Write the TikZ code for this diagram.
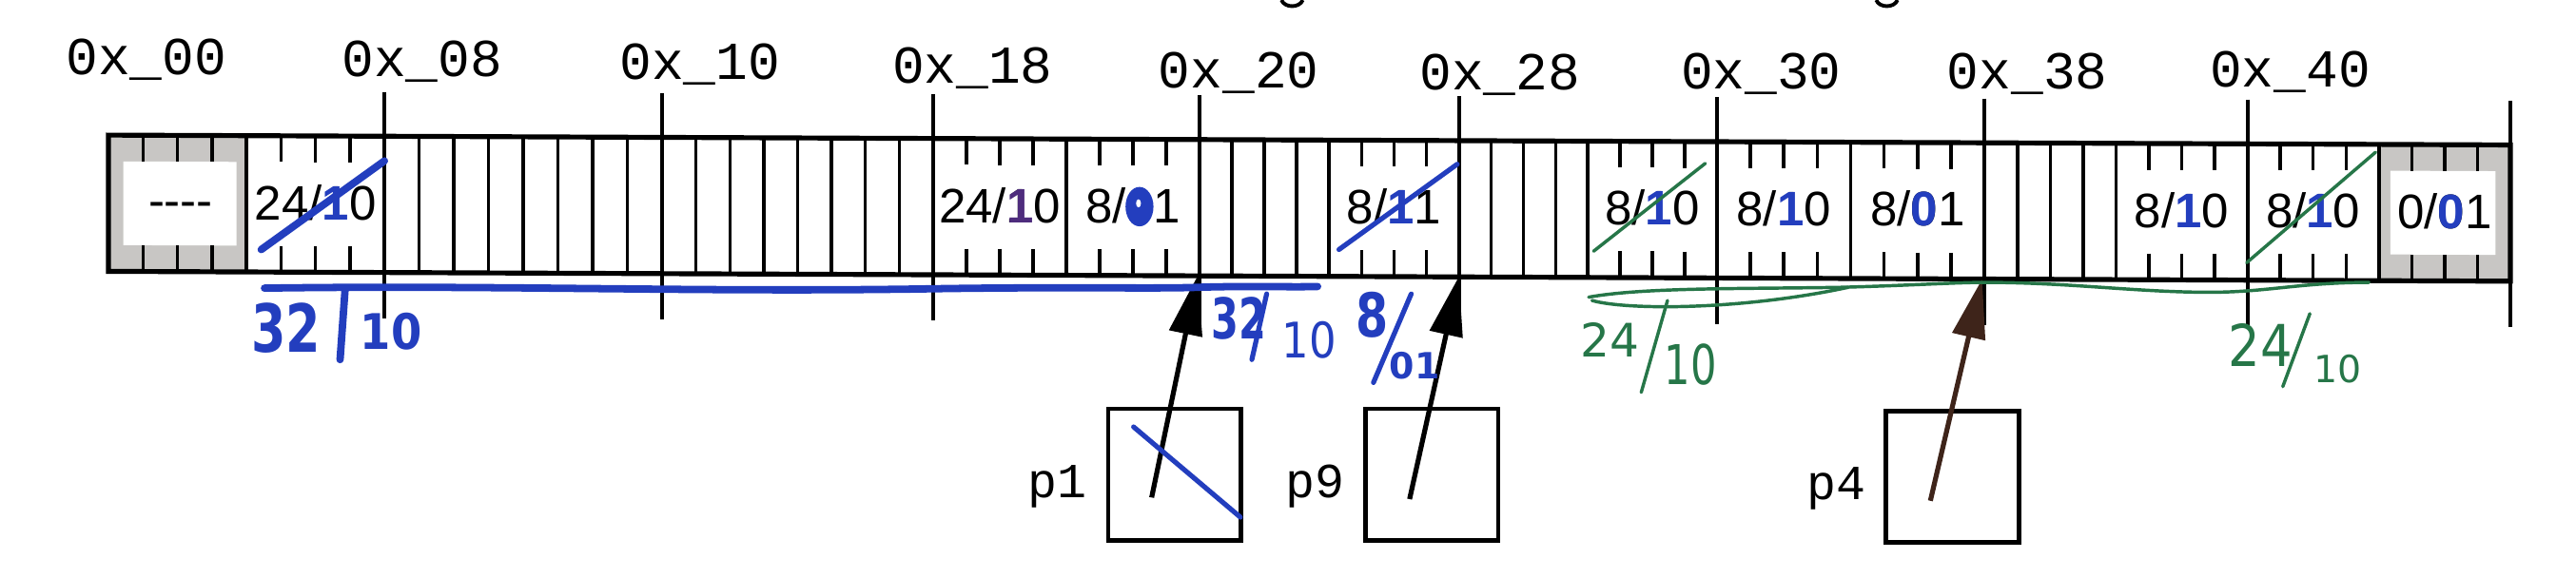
\documentclass[tikz,border=0pt]{standalone}
\usepackage{fontspec}
\usepackage{graphicx}
\usetikzlibrary{arrows.meta}
\setmainfont{Liberation Sans}
\newfontfamily\monofont{Liberation Mono}
\newfontfamily\handfont{DejaVu Sans}
\definecolor{inkblue}{RGB}{35,62,190}
\definecolor{inkpurple}{RGB}{78,44,125}
\definecolor{inkgreen}{RGB}{38,118,72}
\definecolor{inkbrown}{RGB}{62,36,26}
\definecolor{cellgray}{RGB}{200,198,196}
\newcommand{\ovone}[1]{\ooalign{1\cr\textcolor{#1}{\bfseries 1}}}
\newcommand{\ovring}{\ooalign{0\cr\textcolor{inkblue}{\bfseries 0}}}
\tikzset{
  cellline/.style={line width=0.4mm},
  wordline/.style={line width=0.45mm},
  outline/.style={line width=0.6mm},
  hdr/.style={font=\fontsize{16.8}{18}\selectfont, anchor=base, inner sep=0pt},
  addr/.style={font=\monofont\fontsize{18.5}{20}\selectfont, anchor=base, inner sep=0pt},
  plabel/.style={font=\monofont\fontsize{17}{18}\selectfont, anchor=base east, inner sep=0pt},
  pbox/.style={draw, line width=0.55mm, minimum width=16.2mm, minimum height=16mm, inner sep=0pt},
  ptr/.style={line width=0.6mm, -{Triangle[length=7.2mm,width=4mm]}},
  hw/.style={font=\handfont, inner sep=0pt, anchor=center},
  bluepen/.style={inkblue, line width=0.9mm, line cap=round},
  bluethin/.style={inkblue, line width=0.6mm, line cap=round},
  greenpen/.style={inkgreen, line width=0.4mm, line cap=round},
}
\begin{document}
\begin{tikzpicture}[x=0.2mm, y=-0.2mm]
\fill[white] (0,0) rectangle (1568,352);
\path[use as bounding box] (0,0) rectangle (1568,352);
\clip (0,0) rectangle (1568,352);

% byte boundary coordinates
\foreach \w/\xa/\xb in {0/66/234,1/234/403,2/403/568,3/568/730,4/730/888,5/888/1045,6/1045/1208,7/1208/1368,8/1368/1528}{
  \foreach \k in {0,...,7}{
    \pgfmathtruncatemacro{\idx}{\w*8+\k}
    \pgfmathsetmacro{\xx}{\xa+\k*(\xb-\xa)/8}
    \coordinate (b\idx) at (\xx,0);
  }
}
\coordinate (b72) at (1528,0);

% fragments of cut-off title descenders
\draw[line width=0.45mm] (780,0) .. controls (782,5) and (791,5) .. (793,0);
\draw[line width=0.45mm] (1142,0) .. controls (1144,5) and (1153,5) .. (1155,0);

% ---- the heap strip (slightly tilted as in the photo) ----
\begin{scope}[cm={1,-0.0041,0,1,(0,0)}]
  \coordinate (T) at (0,82);
  \coordinate (TT) at (0,98);
  \coordinate (BB) at (0,149);
  \coordinate (B) at (0,165);
  \coordinate (WT) at (0,55);
  \coordinate (WB) at (0,193);
  \fill[cellgray] (b0|-T) rectangle (b4|-B);
  \fill[cellgray] (b68|-T) rectangle (b72|-B);
  \fill[white] (75,98) rectangle (144,149);
  \fill[white] (1455,98) rectangle (1519,149);
  \foreach \i in {4,8,9,10,11,12,13,14,15,16,17,18,19,20,21,22,23,24,28,32,33,34,35,36,40,41,42,43,44,48,52,56,57,58,59,60,64,68}
    \draw[cellline] (b\i|-T) -- (b\i|-B);
  \foreach \i in {1,2,3,5,6,7,25,26,27,29,30,31,37,38,39,45,46,47,49,50,51,53,54,55,61,62,63,65,66,67,69,70,71}{
    \draw[cellline] (b\i|-T) -- (b\i|-TT);
    \draw[cellline] (b\i|-BB) -- (b\i|-B);
  }
  \foreach \i in {8,16,24,32,40,48,56,64,72}
    \draw[wordline] (b\i|-WT) -- (b\i|-WB);
  \draw[outline] (b0|-T) rectangle (b72|-B);

  % address labels
  \node[addr] (a00) at (89,45) {0x\_00};
  \node[addr] (a08) at (257,45.5) {0x\_08};
  \node[addr] (a10) at (426,46.5) {0x\_10};
  \node[addr] (a18) at (592,48.5) {0x\_18};
  \node[addr] (a20) at (754,50.5) {0x\_20};
  \node[addr] (a28) at (913,51) {0x\_28};
  \node[addr] (a30) at (1072,50) {0x\_30};
  \node[addr] (a38) at (1234,49) {0x\_38};
  \node[addr] (a40) at (1394,47.5) {0x\_40};

  % cell contents
  \node[hdr] (pad) at (110,132) {-{}-{}-{}-};
  \node[hdr] (h04) at (192,133) {24/\ovone{inkblue}0};
  \node[hdr] (h18) at (608.5,133) {24/\ovone{inkpurple}0};
  \node[hdr] (h1c) at (689.5,133) {8/01};
  \fill[inkblue] (693.6,123) ellipse [x radius=8.5, y radius=12];
  \fill[white] (693,121) ellipse [x radius=1.5, y radius=2.5];
  \node[hdr] (h24) at (848.5,133) {8/\ovone{inkblue}1};
  \node[hdr] (h2c) at (1005.8,133) {8/\ovone{inkblue}0};
  \node[hdr] (h30) at (1085.8,133) {8/\ovone{inkblue}0};
  \node[hdr] (h34) at (1167.3,133) {8/\ovring 1};
  \node[hdr] (h3c) at (1328,133) {8/\ovone{inkblue}0};
  \node[hdr] (h40) at (1408,133) {8/\ovone{inkblue}0};
  \node[hdr] (h44) at (1488,133) {0/\ovring 1};
\end{scope}

% ---- pointer boxes ----
\node[pbox] (p1) at (715,289) {};
\node[pbox] (p9) at (871.5,289) {};
\node[pbox] (p4) at (1188.5,290.5) {};
\node[plabel] (lp1) at (662,303) {p1};
\node[plabel] (lp9) at (819,303) {p9};
\node[plabel] (lp4) at (1136,304) {p4};
\coordinate (s1) at (701,303);
\coordinate (s9) at (858,304);
\coordinate (s4) at (1175,305);
\coordinate (t20) at (729,168);
\coordinate (t28) at (888,168.5);
\coordinate (t38) at (1206.5,170);
\draw[ptr] (s1) -- (t20);
\draw[ptr] (s9) -- (t28);
\draw[ptr, inkbrown, fill=inkbrown] (s4) -- (t38);

% ---- handwritten annotations ----
% strike-throughs
\draw[bluepen] (159,152) -- (234,98);
\draw[bluethin] (815,152) -- (887,100);
\draw[greenpen] (970,153) -- (1038,99.5);
\draw[greenpen] (1367.5,160) -- (1446,92.7);
\draw[bluethin] (690,260) -- (755,315);

% blue coalesced block
\draw[bluepen] (161,175.5) .. controls (300,173.5) and (420,178) .. (560,176)
  .. controls (650,174.5) and (700,176) .. (729,175) .. controls (760,174) and (785,175) .. (802,174.5);
\node[hw, text=inkblue] (hwA1) at (174,200) {\fontsize{23}{23}\selectfont\bfseries\scalebox{0.75}[1]{32}};
\draw[bluepen] (210,177) -- (207,219);
\node[hw, text=inkblue] (hwA2) at (238,202) {\fontsize{17}{17}\selectfont\bfseries\scalebox{0.9}[1]{10}};
\node[hw, text=inkblue] (hwB1) at (754,194) {\fontsize{19.5}{20}\selectfont\bfseries\scalebox{0.7}[1]{32}};
\draw[bluethin] (771,179) -- (762,219);
\node[hw, text=inkblue] (hwB2) at (797,207) {\fontsize{17}{17}\selectfont\scalebox{0.87}[1]{10}};
\node[hw, text=inkblue] (hwC1) at (835,192) {\fontsize{21}{21}\selectfont\bfseries\scalebox{0.77}[1]{8}};
\draw[bluethin] (859,179) -- (836,233);
\node[hw, text=inkblue] (hwC2) at (861,223) {\fontsize{12.5}{13}\selectfont\bfseries 01};

% green coalesced block
\draw[greenpen] (967,181) .. controls (1000,175) and (1060,176) .. (1120,175)
  .. controls (1160,174) and (1190,172) .. (1208,172)
  .. controls (1260,172) and (1300,178) .. (1345,178)
  .. controls (1380,178) and (1400,172) .. (1442,172);
\draw[greenpen] (969,183) .. controls (990,189) and (1060,189) .. (1125,175);
\node[hw, text=inkgreen] (hwD1) at (980,207) {\fontsize{16}{16}\selectfont 24};
\draw[greenpen] (1015,183) -- (999,239);
\node[hw, text=inkgreen] (hwD2) at (1029,222) {\fontsize{19}{19}\selectfont\scalebox{0.75}[1]{10}};
\node[hw, text=inkgreen] (hwE1) at (1376,210) {\fontsize{20}{20}\selectfont\scalebox{0.87}[1]{24}};
\draw[greenpen] (1406,191) -- (1389.5,235.5);
\node[hw, text=inkgreen] (hwE2) at (1423,225) {\fontsize{13}{13}\selectfont 10};
\end{tikzpicture}
\end{document}
